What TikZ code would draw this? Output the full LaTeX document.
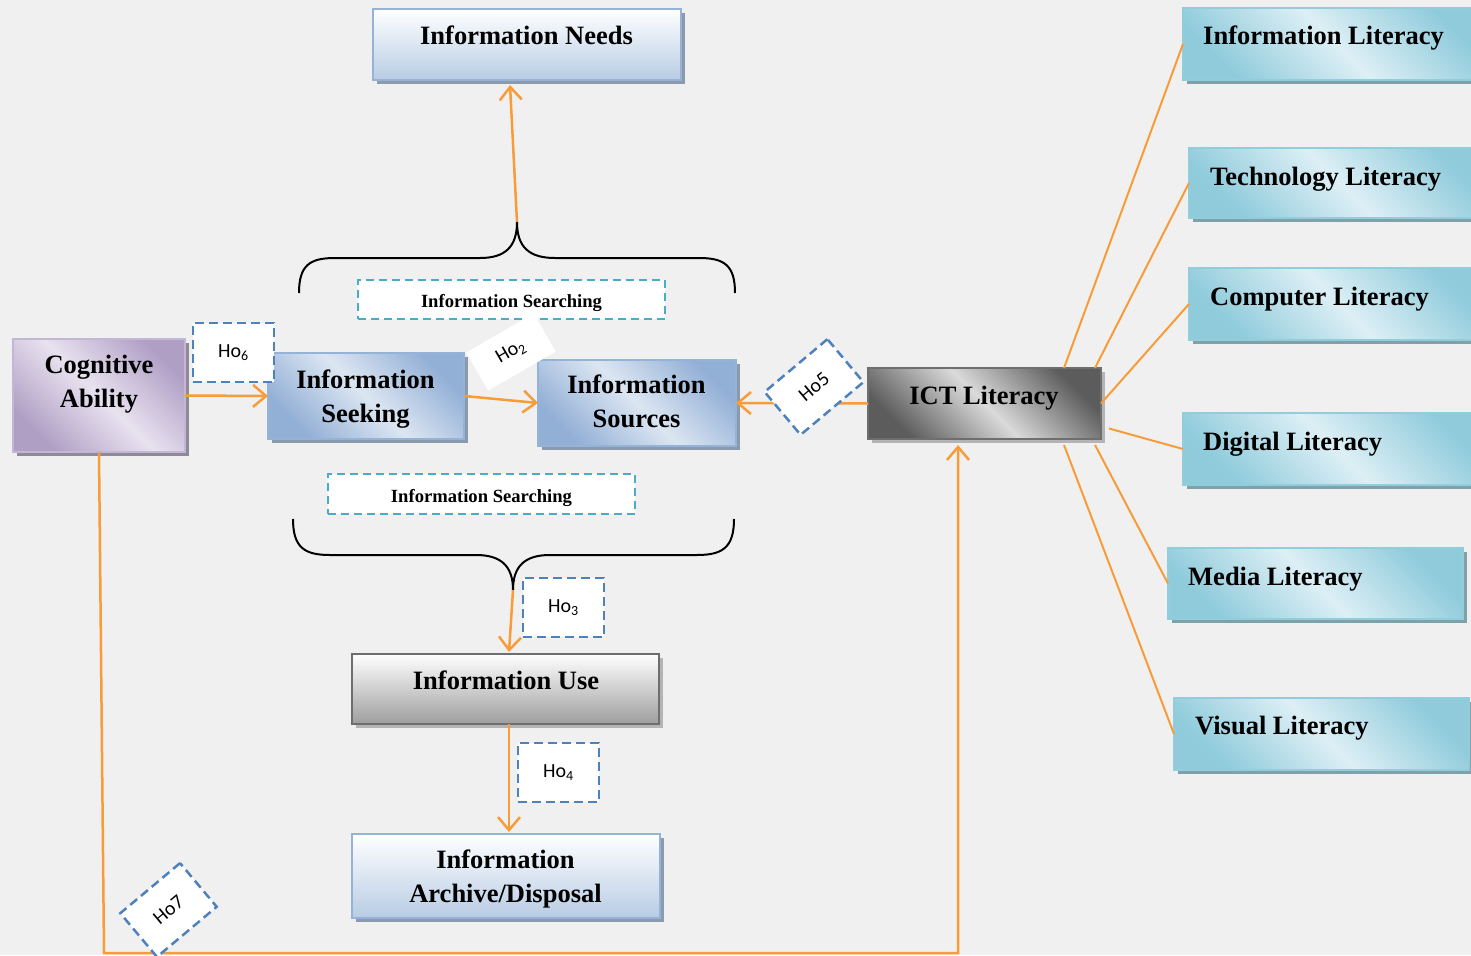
\documentclass[tikz,border=0pt]{standalone}
\usepackage{fontspec}
\setmainfont{Liberation Serif}
\newfontfamily\hofont{Carlito}
\usetikzlibrary{arrows.meta,shadows}
\definecolor{bg}{HTML}{F0F0F0}
\definecolor{orng}{HTML}{F79C38}
\definecolor{dashblue}{HTML}{4F81BD}
\definecolor{dashcyan}{HTML}{4BACC6}
\definecolor{bdBlue}{HTML}{95B3D7}
\definecolor{blueDark}{HTML}{92AFD6}
\definecolor{blueLight}{HTML}{DCE6F2}
\definecolor{needBot}{HTML}{B8CCE4}
\definecolor{shBlue}{HTML}{8C9AAE}
\definecolor{cyDark}{HTML}{8FCBDB}
\definecolor{cyLight}{HTML}{DDEFF5}
\definecolor{cyBd}{HTML}{92CDDC}
\definecolor{shCy}{HTML}{80A0AA}
\definecolor{puDark}{HTML}{B09FC5}
\definecolor{puLight}{HTML}{E8E2EF}
\definecolor{puBd}{HTML}{C3B6D6}
\definecolor{shPu}{HTML}{8E8A98}
\definecolor{icDark}{HTML}{5C5C5C}
\definecolor{icLight}{HTML}{DADADA}
\definecolor{icBd}{HTML}{6E6E6E}
\definecolor{shGr}{HTML}{B4B4B4}
\definecolor{useBot}{HTML}{9E9E9E}
\begin{document}
\begin{tikzpicture}[x=1pt,y=-1pt,
  box/.style={rectangle, line width=2pt, inner sep=0pt, outer sep=0pt},
  sh/.style={drop shadow={shadow xshift=4pt,shadow yshift=-4pt,opacity=1,fill=#1}},
  needbox/.style={box, draw=bdBlue, top color=white, bottom color=needBot, sh=shBlue},
  bluebox/.style={box, draw=bdBlue, top color=blueDark, bottom color=blueDark, middle color=blueLight, shading angle=-45, sh=shBlue},
  cybox/.style={box, draw=cyBd, top color=cyDark, bottom color=cyDark, middle color=cyLight, shading angle=-45, sh=shCy},
  cogbox/.style={box, draw=puBd, top color=puDark, bottom color=puDark, middle color=puLight, shading angle=-45, sh=shPu},
  ictbox/.style={box, draw=icBd, top color=icDark, bottom color=icDark, middle color=icLight, shading angle=-45, sh=shGr},
  usebox/.style={box, draw=icBd, top color=white, bottom color=useBot, sh=shGr},
  srch/.style={rectangle, draw=dashcyan, fill=white, line width=2pt, dash pattern=on 8pt off 5pt, inner sep=0pt},
  ho/.style={rectangle, draw=dashblue, fill=white, line width=2.5pt, dash pattern=on 9pt off 5pt, inner sep=0pt, font=\hofont\fontsize{20}{23}\selectfont},
  txt/.style={font=\fontsize{26.5}{34}\selectfont\bfseries, align=center, inner sep=0pt},
  srt/.style={font=\fontsize{18.6}{22}\selectfont\bfseries, inner sep=0pt},
  conn/.style={draw=orng, line width=2.5pt},
  arr/.style={conn, -{Straight Barb[length=13pt,width=22pt]}},
  spoke/.style={draw=orng, line width=2pt},
  brace/.style={draw=black, line width=2pt}
]
\fill[bg] (0,0) rectangle (1471,955);
\useasboundingbox (0,0) rectangle (1471,955);

% braces
\coordinate (btop) at (517,222);
\coordinate (bbot) at (513,590);
\draw[brace] (299,293) .. controls (299,265) and (310,258) .. (335,258) -- (480,258) .. controls (505,258) and (517,247) .. (btop);
\draw[brace] (735,293) .. controls (735,265) and (724,258) .. (699,258) -- (555,258) .. controls (529,258) and (517,247) .. (btop);
\draw[brace] (293,519) .. controls (293,548) and (305,555) .. (330,555) -- (476,555) .. controls (501,555) and (513,566) .. (bbot);
\draw[brace] (734,519) .. controls (734,548) and (722,555) .. (697,555) -- (550,555) .. controls (525,555) and (513,566) .. (bbot);

% main boxes
\node[needbox, minimum width=308pt, minimum height=71pt] (need) at (527,44.5) {};
\node[cogbox, minimum width=172pt, minimum height=113pt] (cog) at (99,395.5) {};
\node[bluebox, minimum width=196pt, minimum height=86pt] (seek) at (366,396) {};
\node[bluebox, minimum width=198pt, minimum height=86pt] (src) at (637,403) {};
\node[ictbox, minimum width=233pt, minimum height=71pt] (ict) at (984.5,403.5) {};
\node[usebox, minimum width=307pt, minimum height=70pt] (use) at (505.5,689) {};
\node[needbox, minimum width=308pt, minimum height=84pt] (arch) at (506,876) {};

\node[cybox, minimum width=307pt, minimum height=72pt] (il) at (1336.5,44) {};
\node[cybox, minimum width=301pt, minimum height=70pt] (tl) at (1339.5,183) {};
\node[cybox, minimum width=301pt, minimum height=72pt] (cl) at (1339.5,304) {};
\node[cybox, minimum width=307pt, minimum height=72pt] (dl) at (1336.5,449) {};
\node[cybox, minimum width=295pt, minimum height=71pt] (ml) at (1315.5,583.5) {};
\node[cybox, minimum width=295pt, minimum height=72pt] (vl) at (1321.5,734) {};

% searching boxes
\node[srch, minimum width=307pt, minimum height=39pt] (sr1) at (511.5,299.5) {};
\node[srch, minimum width=307pt, minimum height=40pt] (sr2) at (481.5,494) {};

% texts
\node[txt, anchor=base] (need-t) at (526.5,45) {Information Needs};
\node[txt] (cog-t) at (99,384) {Cognitive\\Ability};
\node[txt] (seek-t) at (365.5,398.6) {Information\\Seeking};
\node[txt] (src-t) at (636.5,401.4) {Information\\Sources};
\node[txt, anchor=base] (ict-t) at (984,404) {ICT Literacy};
\node[txt, anchor=base] (use-t) at (506,689) {Information Use};
\node[txt] (arch-t) at (505.5,878.6) {Information\\Archive/Disposal};
\node[txt, anchor=base west] (il-t) at (1203,45) {Information Literacy};
\node[txt, anchor=base west] (tl-t) at (1210,185) {Technology Literacy};
\node[txt, anchor=base west] (cl-t) at (1210,305) {Computer Literacy};
\node[txt, anchor=base west] (dl-t) at (1203,450) {Digital Literacy};
\node[txt, anchor=base west] (ml-t) at (1188,585) {Media Literacy};
\node[txt, anchor=base west] (vl-t) at (1195,734) {Visual Literacy};
\node[srt, anchor=base] (sr1-t) at (511.5,307) {Information Searching};
\node[srt, anchor=base] (sr2-t) at (481.5,502) {Information Searching};

% connectors
\coordinate (c1) at (104,953);
\coordinate (c2) at (958,953);
\draw[arr] (btop) -- ([xshift=-17pt,yshift=-5pt]need.south);
\draw[arr] (cog.east) -- (seek.west);
\draw[arr] (seek.east) -- (src.west);
\draw[arr] (ict.west) -- (src.east);
\draw[arr] (bbot) -- ([xshift=3.5pt,yshift=2pt]use.north);
\draw[arr] ([xshift=3.5pt]use.south) -- ([xshift=3pt,yshift=2pt]arch.north);
\draw[arr] (cog.south) -- (c1) -- (c2) -- ([xshift=-26.5pt,yshift=-6pt]ict.south);
\draw[spoke] ([xshift=-37pt]ict.north east) -- (il.west);
\draw[spoke] ([xshift=-6pt]ict.north east) -- (tl.west);
\draw[spoke] (ict.east) -- (cl.west);
\draw[spoke] ([xshift=8pt,yshift=-25pt]ict.east) -- (dl.west);
\draw[spoke] ([xshift=-6pt,yshift=-6pt]ict.south east) -- (ml.west);
\draw[spoke] ([xshift=-37pt,yshift=-6pt]ict.south east) -- (vl.west);

% hypothesis boxes
\node[ho, minimum width=81pt, minimum height=59pt] (ho6) at (233.5,352.5) {Ho\textsubscript{6}};
\node[ho, minimum width=81pt, minimum height=59pt] (ho3) at (563.5,607.5) {Ho\textsubscript{3}};
\node[ho, minimum width=81pt, minimum height=59pt] (ho4) at (558.5,772.5) {Ho\textsubscript{4}};
\node[ho, rotate=40, minimum width=82pt, minimum height=56pt] (ho5) at (814,387) {Ho5};
\node[ho, rotate=40, minimum width=78pt, minimum height=57pt] (ho7) at (168.5,910) {Ho7};
\node[ho, draw=none, rotate=30, minimum width=78pt, minimum height=44pt] (ho2) at (511,352) {Ho\textsubscript{2}};
\end{tikzpicture}
\end{document}
